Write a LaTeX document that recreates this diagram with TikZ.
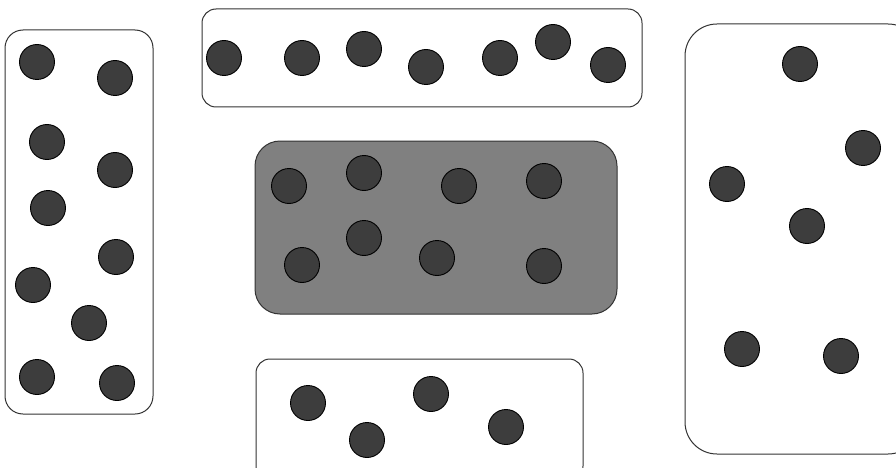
\documentclass[tikz,border=0pt]{standalone}
\begin{document}
\begin{tikzpicture}[x=1pt,y=-1pt,
  grp/.style={draw=black!80,line width=1pt},
  dot/.style={circle,draw=black,line width=0.9pt,fill=black!76,minimum size=35pt,inner sep=0pt}]
\useasboundingbox (0,0) rectangle (896,468);
\begin{scope}
\clip (0,0) rectangle (896,468);
\draw[grp,rounded corners=18pt] (5,30) rectangle (153,414);
\draw[grp,rounded corners=14pt] (202,9) rectangle (642,107);
\draw[grp,fill=black!50,rounded corners=25pt] (255,141) rectangle (617,314);
\draw[grp,rounded corners=14pt] (256,359) rectangle (583,480);
\draw[grp,rounded corners=32pt] (685,24) rectangle (920,454);
\end{scope}
% left
\foreach \n/\x/\y in {l1/37/62,l2/115/78,l3/47/142,l4/115/170,l5/48/208,l6/116/257,l7/33/285,l8/89/323,l9/37/377,l10/117/383}
  \node[dot] (\n) at (\x,\y) {};
% top
\foreach \n/\x/\y in {t1/224/58,t2/302/58,t3/364/49,t4/426/67,t5/500/58,t6/553/42,t7/608/65}
  \node[dot] (\n) at (\x,\y) {};
% middle
\foreach \n/\x/\y in {m1/289/186,m2/364/173,m3/459/186,m4/544/181,m5/302/265,m6/364/238,m7/437/258,m8/544/266}
  \node[dot] (\n) at (\x,\y) {};
% bottom
\foreach \n/\x/\y in {b1/308/403,b2/367/440,b3/431/394,b4/506/427}
  \node[dot] (\n) at (\x,\y) {};
% right
\foreach \n/\x/\y in {r1/800/64,r2/863/148,r3/727/184,r4/807/226,r5/742/349,r6/841/356}
  \node[dot] (\n) at (\x,\y) {};
\end{tikzpicture}
\end{document}
